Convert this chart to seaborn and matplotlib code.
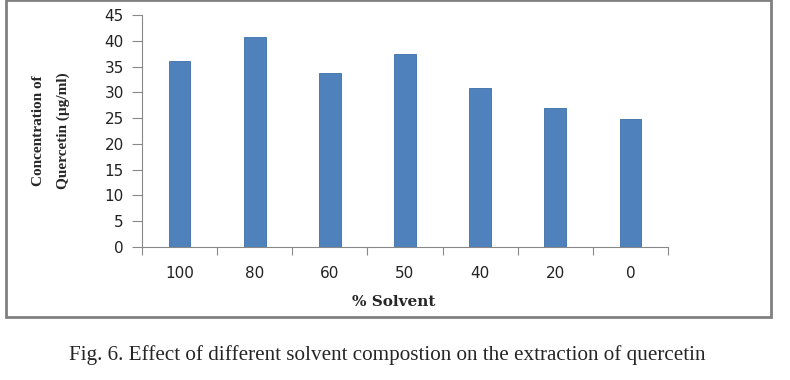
import matplotlib.pyplot as plt
import seaborn as sns
import pandas as pd
from matplotlib.patches import Rectangle

sns.set_style("white")
plt.rcParams['font.family'] = ['DejaVu Sans']

# chart values
solvent = ["100", "80", "60", "50", "40", "20", "0"]
quercetin = [36, 40.8, 33.8, 37.4, 30.9, 26.9, 24.9]
y_ticks = [0, 5, 10, 15, 20, 25, 30, 35, 40, 45]

df = pd.DataFrame({"solvent": solvent, "conc": quercetin})

fig = plt.figure(figsize=(7.9, 3.8), dpi=100)
ax = fig.add_axes([0.1797, 0.35, 0.6659, 0.6105])

sns.barplot(data=df, x="solvent", y="conc", order=solvent, color="#4F81BD",
            width=0.29, saturation=1, edgecolor="#3C6EA8", linewidth=0.6, ax=ax)

ax.set_xlim(-0.5, len(solvent) - 0.5)
ax.set_ylim(0, 45)
ax.set_yticks(y_ticks)
ax.set_yticklabels([str(v) for v in y_ticks], fontsize=11, color="#222222")
ax.set_xticks(range(len(solvent)))
ax.set_xticklabels(solvent, fontsize=11, color="#222222")
ax.set_xticks([i - 0.5 for i in range(len(solvent) + 1)], minor=True)
ax.tick_params(axis="x", which="major", bottom=False, length=0, pad=14)
ax.tick_params(axis="x", which="minor", bottom=True, length=6, width=0.8,
               color="#888888", direction="out")
ax.tick_params(axis="y", left=True, length=7, width=0.8, color="#888888",
               direction="out", pad=6)

for side in ["top", "right"]:
    ax.spines[side].set_visible(False)
for side in ["left", "bottom"]:
    ax.spines[side].set_color("#888888")
    ax.spines[side].set_linewidth(0.8)

ax.set_xlabel("")
ax.set_ylabel("")

# labels in a serif face like the original
fig.text(0.049, 0.655, "Concentration of", rotation=90, ha="center", va="center",
         fontsize=11, fontweight="bold", family="Liberation Serif")
fig.text(0.080, 0.655, "Quercetin (µg/ml)", rotation=90, ha="center", va="center",
         fontsize=11, fontweight="bold", family="Liberation Serif")
fig.text(0.4987, 0.205, "% Solvent", ha="center", va="center",
         fontsize=11, fontweight="bold", family="DejaVu Serif")

# outer frame around the chart
fig.patches.append(Rectangle((0.008, 0.166), 0.968, 0.834, transform=fig.transFigure,
                             fill=False, edgecolor="#808080", linewidth=2))

fig.text(0.4905, 0.066, "Fig. 6. Effect of different solvent compostion on the extraction of quercetin",
         ha="center", va="center", fontsize=15.2, family="Liberation Serif")

fig.savefig("out.png", dpi=100)
